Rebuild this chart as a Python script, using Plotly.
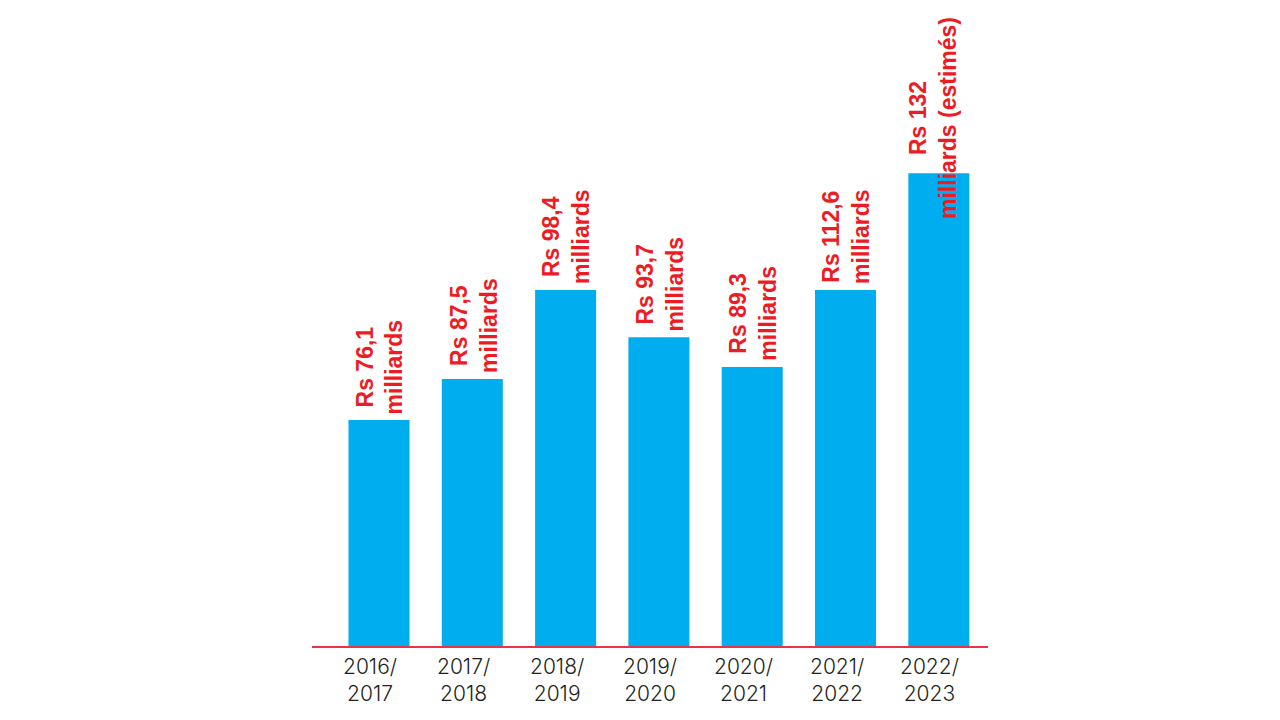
import plotly.graph_objects as go

# Data
periods = ["2016/2017", "2017/2018", "2018/2019", "2019/2020", "2020/2021", "2021/2022", "2022/2023"]
# Values printed on the chart (Rs milliards)
label_values = ["76,1", "87,5", "98,4", "93,7", "89,3", "112,6", "132"]
label_suffix = ["milliards"] * 6 + ["milliards (estimés)"]
# Bar heights as drawn in the picture (scaled so the 2022/2023 bar = 132)
bar_heights = [63.1, 74.5, 99.4, 86.2, 77.9, 99.4, 132.0]

BLUE = "#00adef"
RED = "#ed1c24"
TEXT = "#231f20"

x_idx = list(range(len(periods)))

fig = go.Figure()
fig.add_trace(go.Bar(
    x=x_idx, y=bar_heights,
    marker=dict(color=BLUE, line=dict(width=0)),
    hoverinfo="skip",
))

annotations = []
for i, (v, s, h) in enumerate(zip(label_values, label_suffix, bar_heights)):
    last = i == len(periods) - 1
    annotations.append(dict(
        x=i, y=h, xref="x", yref="y",
        text=f"Rs {v}<br>{s}",
        textangle=-90, showarrow=False,
        xanchor="center", yanchor="bottom",
        yshift=-48 if last else 4,
        xshift=-6 if last else 1,
        align="center",
        font=dict(family="Liberation Sans", size=23, color=RED, weight="bold"),
    ))
    top, bottom = periods[i].split("/")
    annotations.append(dict(
        x=i, y=0, xref="x", yref="paper",
        text=f"{top}/<br>{bottom}", showarrow=False,
        xanchor="center", yanchor="middle", yshift=-34, xshift=-9,
        align="center",
        font=dict(family="Inter", size=21, color=TEXT, weight=300),
    ))

fig.update_layout(
    width=1280, height=720,
    margin=dict(l=304, r=300, t=0, b=82),
    paper_bgcolor="white", plot_bgcolor="white",
    bargap=0.346,
    showlegend=False,
    annotations=annotations,
    xaxis=dict(range=[-0.718, 6.527], showticklabels=False, showgrid=False,
               zeroline=False, showline=True, linecolor="#e8334a", linewidth=1.5,
               ticks=""),
    yaxis=dict(range=[0, 178.1], visible=False, showgrid=False, zeroline=False),
)

fig.write_html("out.html")
